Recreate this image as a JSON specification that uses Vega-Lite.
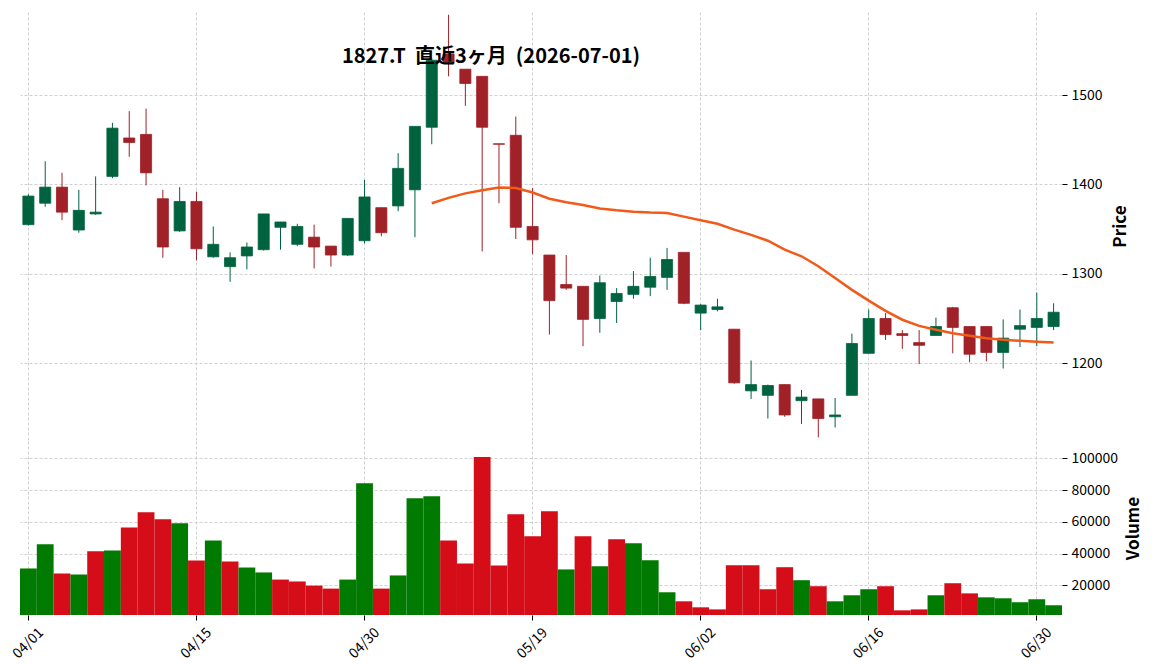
{
  "$schema": "https://vega.github.io/schema/vega-lite/v6.json",
  "padding": {"left": 10, "top": 12, "right": 12, "bottom": 0},
  "background": "white",
  "config": {
    "font": "Noto Sans CJK JP",
    "view": {"stroke": null},
    "axis": {"labelFont": "Noto Sans CJK JP", "labelFontSize": 14, "labelColor": "#000", "tickColor": "#000", "domain": false, "gridColor": "#c4c4c4", "gridDash": [3, 2], "gridWidth": 0.8, "titleFont": "Noto Sans CJK JP", "titleFontSize": 17, "titleFontWeight": "bold", "titleColor": "#000", "titleAngle": 270, "titleBaseline": "top"}
  },
  "datasets": {
    "ohlc": [
      {"date": "2026-04-01", "open": 1355, "high": 1389, "low": 1354, "close": 1387, "volume": 30600, "vdir": "up", "ma25": null},
      {"date": "2026-04-02", "open": 1379, "high": 1426, "low": 1375, "close": 1397, "volume": 45800, "vdir": "up", "ma25": null},
      {"date": "2026-04-03", "open": 1397, "high": 1413, "low": 1360, "close": 1369, "volume": 27400, "vdir": "down", "ma25": null},
      {"date": "2026-04-06", "open": 1349, "high": 1394, "low": 1346, "close": 1371, "volume": 26800, "vdir": "up", "ma25": null},
      {"date": "2026-04-07", "open": 1367, "high": 1409, "low": 1366, "close": 1369, "volume": 41400, "vdir": "down", "ma25": null},
      {"date": "2026-04-08", "open": 1409, "high": 1469, "low": 1407, "close": 1463, "volume": 42000, "vdir": "up", "ma25": null},
      {"date": "2026-04-09", "open": 1452, "high": 1482, "low": 1431, "close": 1447, "volume": 56500, "vdir": "down", "ma25": null},
      {"date": "2026-04-10", "open": 1456, "high": 1485, "low": 1399, "close": 1413, "volume": 66000, "vdir": "down", "ma25": null},
      {"date": "2026-04-13", "open": 1384, "high": 1394, "low": 1318, "close": 1330, "volume": 61600, "vdir": "down", "ma25": null},
      {"date": "2026-04-14", "open": 1348, "high": 1397, "low": 1347, "close": 1381, "volume": 59100, "vdir": "up", "ma25": null},
      {"date": "2026-04-15", "open": 1381, "high": 1392, "low": 1315, "close": 1328, "volume": 35700, "vdir": "down", "ma25": null},
      {"date": "2026-04-16", "open": 1319, "high": 1353, "low": 1318, "close": 1333, "volume": 48300, "vdir": "up", "ma25": null},
      {"date": "2026-04-17", "open": 1308, "high": 1324, "low": 1291, "close": 1318, "volume": 35000, "vdir": "down", "ma25": null},
      {"date": "2026-04-20", "open": 1320, "high": 1335, "low": 1305, "close": 1330, "volume": 31200, "vdir": "up", "ma25": null},
      {"date": "2026-04-21", "open": 1327, "high": 1367, "low": 1326, "close": 1367, "volume": 28100, "vdir": "up", "ma25": null},
      {"date": "2026-04-22", "open": 1352, "high": 1358, "low": 1327, "close": 1358, "volume": 23600, "vdir": "down", "ma25": null},
      {"date": "2026-04-23", "open": 1333, "high": 1356, "low": 1331, "close": 1353, "volume": 22400, "vdir": "down", "ma25": null},
      {"date": "2026-04-24", "open": 1341, "high": 1355, "low": 1306, "close": 1330, "volume": 19800, "vdir": "down", "ma25": null},
      {"date": "2026-04-27", "open": 1331, "high": 1331, "low": 1308, "close": 1321, "volume": 17900, "vdir": "down", "ma25": null},
      {"date": "2026-04-28", "open": 1321, "high": 1362, "low": 1320, "close": 1362, "volume": 23600, "vdir": "up", "ma25": null},
      {"date": "2026-04-30", "open": 1337, "high": 1405, "low": 1334, "close": 1386, "volume": 84400, "vdir": "up", "ma25": null},
      {"date": "2026-05-01", "open": 1374, "high": 1374, "low": 1342, "close": 1346, "volume": 17900, "vdir": "down", "ma25": null},
      {"date": "2026-05-07", "open": 1376, "high": 1435, "low": 1370, "close": 1418, "volume": 26200, "vdir": "up", "ma25": null},
      {"date": "2026-05-08", "open": 1394, "high": 1465, "low": 1341, "close": 1465, "volume": 74900, "vdir": "up", "ma25": null},
      {"date": "2026-05-11", "open": 1464, "high": 1541, "low": 1445, "close": 1539, "volume": 76200, "vdir": "up", "ma25": 1379},
      {"date": "2026-05-12", "open": 1546, "high": 1590, "low": 1521, "close": 1537, "volume": 48300, "vdir": "down", "ma25": 1385},
      {"date": "2026-05-13", "open": 1529, "high": 1529, "low": 1488, "close": 1513, "volume": 33800, "vdir": "down", "ma25": 1390},
      {"date": "2026-05-14", "open": 1521, "high": 1521, "low": 1325, "close": 1464, "volume": 100900, "vdir": "down", "ma25": 1393.5},
      {"date": "2026-05-15", "open": 1445.5, "high": 1445.5, "low": 1379, "close": 1445, "volume": 32500, "vdir": "down", "ma25": 1396.5},
      {"date": "2026-05-18", "open": 1455, "high": 1476, "low": 1339, "close": 1352, "volume": 64800, "vdir": "down", "ma25": 1396},
      {"date": "2026-05-19", "open": 1353, "high": 1396, "low": 1322, "close": 1338, "volume": 50900, "vdir": "down", "ma25": 1391},
      {"date": "2026-05-20", "open": 1321, "high": 1321, "low": 1232, "close": 1270, "volume": 66700, "vdir": "down", "ma25": 1384},
      {"date": "2026-05-21", "open": 1288, "high": 1321, "low": 1282, "close": 1284, "volume": 30000, "vdir": "up", "ma25": 1380},
      {"date": "2026-05-22", "open": 1286, "high": 1286, "low": 1219, "close": 1249, "volume": 50900, "vdir": "down", "ma25": 1377},
      {"date": "2026-05-25", "open": 1250, "high": 1298, "low": 1234, "close": 1290, "volume": 32000, "vdir": "up", "ma25": 1373},
      {"date": "2026-05-26", "open": 1269, "high": 1284, "low": 1245, "close": 1278, "volume": 49000, "vdir": "down", "ma25": 1371},
      {"date": "2026-05-27", "open": 1277, "high": 1303, "low": 1272, "close": 1286, "volume": 46500, "vdir": "up", "ma25": 1369.5},
      {"date": "2026-05-28", "open": 1285, "high": 1318, "low": 1275, "close": 1297, "volume": 35800, "vdir": "up", "ma25": 1368.5},
      {"date": "2026-05-29", "open": 1296, "high": 1329, "low": 1282, "close": 1316, "volume": 15600, "vdir": "up", "ma25": 1368},
      {"date": "2026-06-01", "open": 1324, "high": 1324, "low": 1266, "close": 1267, "volume": 9900, "vdir": "down", "ma25": 1364},
      {"date": "2026-06-02", "open": 1256, "high": 1266, "low": 1237, "close": 1265, "volume": 6100, "vdir": "down", "ma25": 1360},
      {"date": "2026-06-03", "open": 1260, "high": 1272, "low": 1258, "close": 1263, "volume": 4800, "vdir": "down", "ma25": 1356},
      {"date": "2026-06-04", "open": 1238, "high": 1238, "low": 1177, "close": 1178, "volume": 32600, "vdir": "down", "ma25": 1349.5},
      {"date": "2026-06-05", "open": 1169, "high": 1203, "low": 1160, "close": 1176, "volume": 32600, "vdir": "down", "ma25": 1343.6},
      {"date": "2026-06-08", "open": 1164, "high": 1176, "low": 1138, "close": 1175, "volume": 17500, "vdir": "down", "ma25": 1337},
      {"date": "2026-06-09", "open": 1176, "high": 1176, "low": 1140, "close": 1142, "volume": 31400, "vdir": "down", "ma25": 1327},
      {"date": "2026-06-10", "open": 1158, "high": 1170, "low": 1132, "close": 1162, "volume": 23200, "vdir": "up", "ma25": 1319.6},
      {"date": "2026-06-11", "open": 1160, "high": 1160, "low": 1117, "close": 1138, "volume": 19400, "vdir": "down", "ma25": 1308.4},
      {"date": "2026-06-12", "open": 1140, "high": 1161, "low": 1128, "close": 1142, "volume": 9900, "vdir": "up", "ma25": 1295.3},
      {"date": "2026-06-15", "open": 1164, "high": 1233, "low": 1164, "close": 1222, "volume": 13700, "vdir": "up", "ma25": 1282},
      {"date": "2026-06-16", "open": 1211, "high": 1260, "low": 1211, "close": 1250, "volume": 17500, "vdir": "up", "ma25": 1270},
      {"date": "2026-06-17", "open": 1250, "high": 1256, "low": 1226, "close": 1232, "volume": 19400, "vdir": "down", "ma25": 1258.5},
      {"date": "2026-06-18", "open": 1233, "high": 1237, "low": 1216, "close": 1231, "volume": 4200, "vdir": "down", "ma25": 1248.6},
      {"date": "2026-06-19", "open": 1223, "high": 1237, "low": 1199, "close": 1220, "volume": 4800, "vdir": "down", "ma25": 1241.7},
      {"date": "2026-06-22", "open": 1231, "high": 1251, "low": 1231, "close": 1241, "volume": 13700, "vdir": "up", "ma25": 1237.4},
      {"date": "2026-06-23", "open": 1262, "high": 1263, "low": 1211, "close": 1240, "volume": 21300, "vdir": "down", "ma25": 1233.5},
      {"date": "2026-06-24", "open": 1241, "high": 1241, "low": 1201, "close": 1210, "volume": 14900, "vdir": "down", "ma25": 1230.7},
      {"date": "2026-06-25", "open": 1241, "high": 1241, "low": 1202, "close": 1212, "volume": 12400, "vdir": "up", "ma25": 1228},
      {"date": "2026-06-26", "open": 1212, "high": 1249, "low": 1194, "close": 1228, "volume": 11800, "vdir": "up", "ma25": 1226.2},
      {"date": "2026-06-29", "open": 1238, "high": 1260, "low": 1218, "close": 1242, "volume": 9300, "vdir": "up", "ma25": 1225},
      {"date": "2026-06-30", "open": 1240, "high": 1279, "low": 1219, "close": 1250, "volume": 11200, "vdir": "up", "ma25": 1224},
      {"date": "2026-07-01", "open": 1241, "high": 1267, "low": 1237, "close": 1257, "volume": 7400, "vdir": "up", "ma25": 1223.2}
    ]
  },
  "spacing": 1,
  "vconcat": [
    {
      "width": 1042,
      "height": 428,
      "data": {"name": "ohlc"},
      "title": {"text": "1827.T\u00a0\u00a0直近3ヶ月\u00a0\u00a0(2026-07-01)", "font": "Noto Sans CJK JP", "fontSize": 20, "fontWeight": "bold", "color": "#000", "anchor": "middle", "dx": -50, "offset": -55},
      "encoding": {
        "x": {"field": "date", "type": "ordinal", "scale": {"paddingInner": 0, "paddingOuter": 0},
          "axis": {"orient": "bottom", "labels": false, "ticks": false, "title": null, "grid": true, "bandPosition": 0.5,
            "values": ["2026-04-01", "2026-04-15", "2026-04-30", "2026-05-19", "2026-06-02", "2026-06-16", "2026-06-30"]}}
      },
      "layer": [
        {
          "mark": {"type": "rule", "strokeWidth": 1},
          "encoding": {
            "y": {"field": "low", "type": "quantitative", "scale": {"domain": [1114, 1593], "nice": false, "zero": false},
              "axis": {"orient": "right", "values": [1200, 1300, 1400, 1500], "format": "d", "title": "Price", "grid": true, "tickSize": 5, "labelPadding": 4, "titlePadding": 10}},
            "y2": {"field": "high"},
            "color": {"condition": {"test": "datum.close >= datum.open", "value": "#006340"}, "value": "#a02128"}
          }
        },
        {
          "mark": {"type": "bar", "width": {"band": 0.66}, "strokeWidth": 0.8},
          "encoding": {
            "y": {"field": "open", "type": "quantitative"},
            "y2": {"field": "close"},
            "color": {"condition": {"test": "datum.close >= datum.open", "value": "#006340"}, "value": "#a02128"},
            "stroke": {"condition": {"test": "datum.close >= datum.open", "value": "#006340"}, "value": "#a02128"}
          }
        },
        {
          "transform": [{"filter": "datum.ma25 != null"}],
          "mark": {"type": "line", "color": "#f25a1a", "strokeWidth": 2.5},
          "encoding": {
            "y": {"field": "ma25", "type": "quantitative"}
          }
        }
      ]
    },
    {
      "width": 1042,
      "height": 174,
      "data": {"name": "ohlc"},
      "mark": {"type": "bar", "clip": true, "width": {"band": 1}},
      "encoding": {
        "x": {"field": "date", "type": "ordinal", "scale": {"paddingInner": 0, "paddingOuter": 0},
          "axis": {"orient": "bottom", "title": null, "grid": true, "bandPosition": 0.5, "labelAngle": -45, "labelAlign": "center", "labelBaseline": "middle", "tickSize": 5, "labelPadding": 23,
            "values": ["2026-04-01", "2026-04-15", "2026-04-30", "2026-05-19", "2026-06-02", "2026-06-16", "2026-06-30"],
            "labelExpr": "substring(datum.value, 5, 7) + '/' + substring(datum.value, 8, 10)"}},
        "y": {"field": "volume", "type": "quantitative", "scale": {"domain": [1260, 110990], "nice": false, "zero": false},
          "axis": {"orient": "right", "values": [20000, 40000, 60000, 80000, 100000], "format": "d", "title": "Volume", "grid": true, "tickSize": 5, "labelPadding": 4, "titlePadding": 8}},
        "color": {"field": "vdir", "type": "nominal", "scale": {"domain": ["up", "down"], "range": ["#007a00", "#d50d18"]}, "legend": null}
      }
    }
  ]
}
